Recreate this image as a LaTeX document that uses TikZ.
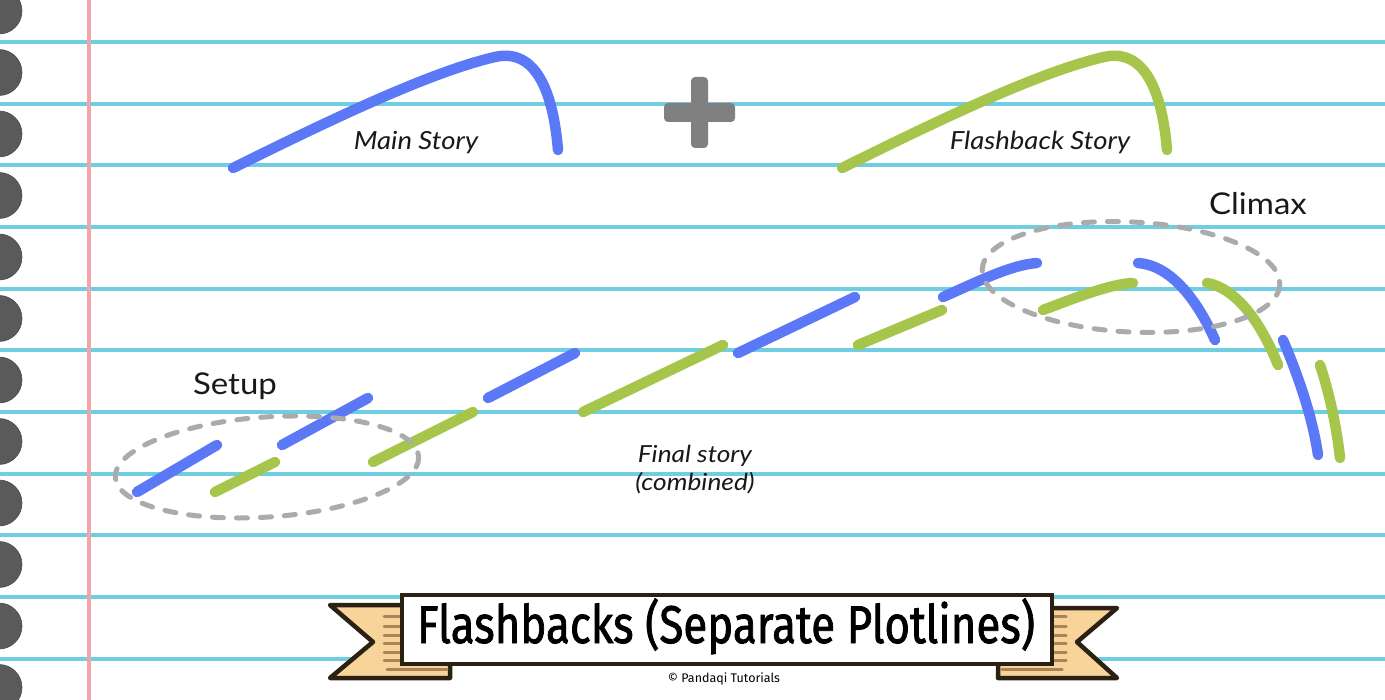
\documentclass[tikz,border=0pt]{standalone}
\usepackage{fontspec}
\usepackage{graphicx}
\setmainfont{Lato}
\newfontfamily\titlefont{Fira Sans}[FakeBold=1.6]
\newfontfamily\creditfont{Fira Sans}
\newcommand{\widetxt}[1]{\scalebox{1.1}[1]{#1}}
\definecolor{ruleblue}{HTML}{70CEE2}
\definecolor{marginpink}{HTML}{F5A3AB}
\definecolor{holegray}{HTML}{5A5A5A}
\definecolor{storyblue}{HTML}{5B78F6}
\definecolor{storygreen}{HTML}{A5C64B}
\definecolor{ringgray}{HTML}{ABABAB}
\definecolor{plusgray}{HTML}{808080}
\definecolor{ribbonfill}{HTML}{F8D49A}
\definecolor{ribbonline}{HTML}{2B2113}
\definecolor{stripe}{HTML}{A88458}
\begin{document}
\begin{tikzpicture}[x=1pt,y=-1pt,
  rule/.style={ruleblue,line width=4pt},
  hole/.style={fill=holegray,draw=holegray!80!black,line width=0.6pt},
  bluestroke/.style={storyblue,line width=10.5pt,line cap=round},
  greenstroke/.style={storygreen,line width=10.5pt,line cap=round},
  ring/.style={ringgray,line width=5pt,line cap=round,dash pattern=on 11pt off 13pt},
  lbl/.style={text=black!90,inner sep=0pt,anchor=base},
  ribbon/.style={fill=ribbonfill,draw=ribbonline,line width=4.5pt,line join=round},
  stripeline/.style={stripe,line width=3pt,line cap=round}]
\useasboundingbox (0,0) rectangle (1385,700);
\fill[white] (0,0) rectangle (1385,700);
% ruled lines
\foreach \k in {0,...,10}{
  \draw[rule] (0,{42+61.65*\k}) -- (1385,{42+61.65*\k});
}
% margin
\draw[marginpink,line width=4pt] (89,0) -- (89,700);
% holes
\foreach \k in {0,...,11}{
  \fill[hole] (-1,{11+61.5*\k}) circle (23);
}
% plus sign
\fill[plusgray,rounded corners=4pt] (691,77) rectangle (708,148);
\fill[plusgray,rounded corners=4pt] (664,103) rectangle (735,122);
% main story and flashback story
\draw[bluestroke] (233,168) .. controls (330,120) and (430,72) .. (495,57)
   .. controls (535,48) and (553,90) .. (558,150);
\draw[greenstroke] (842,168) .. controls (939,120) and (1039,72) .. (1104,57)
   .. controls (1144,48) and (1162,90) .. (1167,150);
\node[lbl,font=\fontsize{25}{30}\selectfont\itshape] (mainlbl) at (416,150) {\widetxt{Main Story}};
\node[lbl,font=\fontsize{25}{30}\selectfont\itshape] (flashlbl) at (1040,150) {\widetxt{Flashback Story}};
% final story (combined)
\draw[bluestroke] (137,492) -- (217,445);
\draw[greenstroke] (215,492) -- (275,462);
\draw[bluestroke] (282,445) -- (368,398);
\draw[greenstroke] (373,462) -- (473,412);
\draw[bluestroke] (488,398) -- (575,353);
\draw[greenstroke] (583,412) -- (723,345);
\draw[bluestroke] (738,353) -- (855,297);
\draw[greenstroke] (858,345) -- (942,310);
\draw[bluestroke] (943,297) .. controls (975,283) and (1010,265) .. (1037,263);
\draw[greenstroke] (1043,310) .. controls (1075,298) and (1110,284) .. (1133,283);
\draw[bluestroke] (1138,263) .. controls (1168,265) and (1195,295) .. (1215,340);
\draw[greenstroke] (1207,283) .. controls (1235,288) and (1260,320) .. (1278,365);
\draw[bluestroke] (1283,340) .. controls (1300,380) and (1313,420) .. (1318,455);
\draw[greenstroke] (1320,365) .. controls (1330,395) and (1337,430) .. (1340,458);
% rings
\draw[ring,rotate around={4:(267,467)}] (267,467) ellipse [x radius=152, y radius=50];
\draw[ring,rotate around={-3:(1131,277)}] (1131,277) ellipse [x radius=149, y radius=55];
\node[lbl,font=\fontsize{30}{36}\selectfont] (setup) at (235,395) {\widetxt{Setup}};
\node[lbl,font=\fontsize{30}{36}\selectfont] (climax) at (1258,215) {\widetxt{Climax}};
\node[lbl,font=\fontsize{23.5}{26}\selectfont\itshape] (final) at (695,463) {\scalebox{1.12}[1]{Final story}};
\node[lbl,font=\fontsize{23.5}{26}\selectfont\itshape] (combined) at (695,490) {\scalebox{1.12}[1]{(combined)}};
% banner
\draw[ribbon] (330,605) -- (450,605) -- (450,678) -- (330,678) -- (373,642) -- cycle;
\draw[ribbon] (1117,608) -- (998,608) -- (998,678) -- (1117,678) -- (1077,642) -- cycle;
\foreach \y in {616,626,635,643,652,660}{
  \draw[stripeline] (384,\y) -- (402,\y);
  \draw[stripeline] (1052,\y) -- (1066,\y);
}
\draw[stripeline] (387,669) -- (447,669);
\draw[stripeline] (1002,669) -- (1062,669);
\draw[fill=white,draw=ribbonline,line width=4.5pt] (402,595) rectangle (1052,664);
\node[lbl,text=black] (title) at (726,643)
  {\resizebox{618pt}{\height}{\titlefont\fontsize{53}{60}\selectfont Flashbacks (Separate Plotlines)}};
\node[lbl,text=black] (credit) at (724,682) {\creditfont\fontsize{12.5}{14}\selectfont © Pandaqi Tutorials};
\end{tikzpicture}
\end{document}
